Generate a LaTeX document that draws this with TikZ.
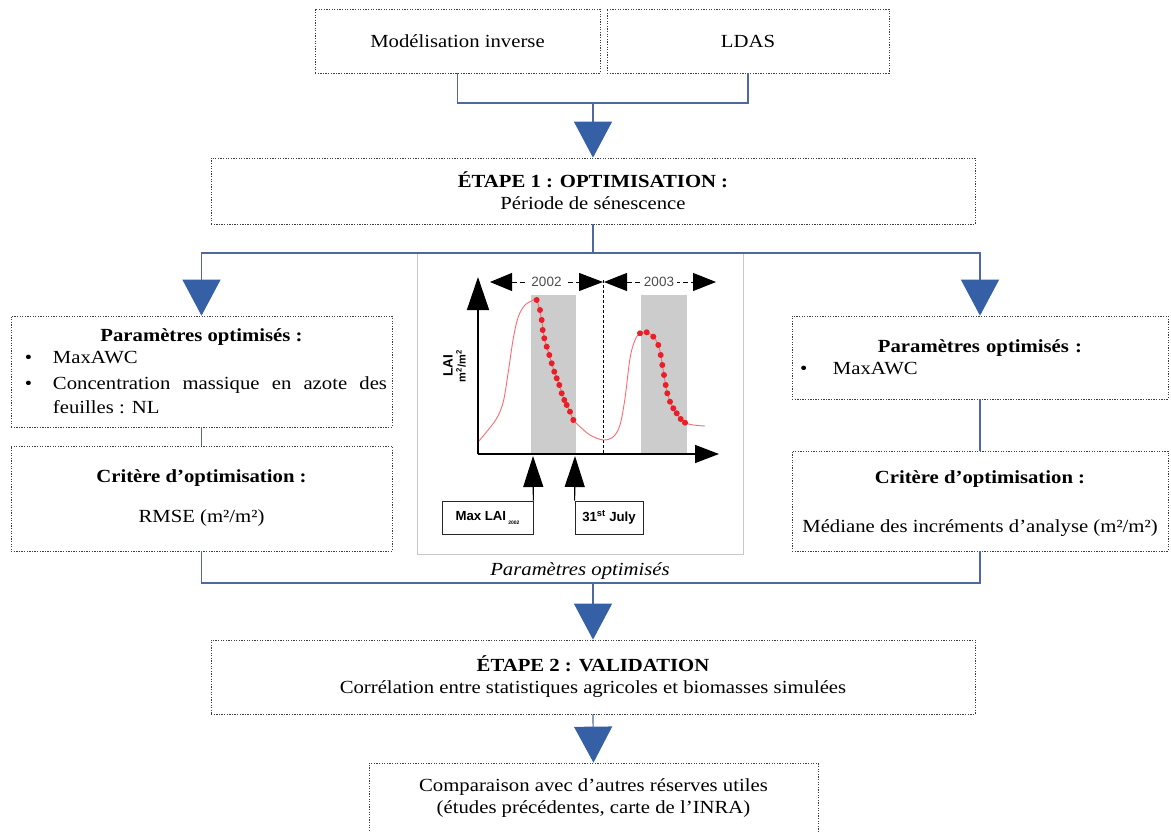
\documentclass[tikz,border=0pt]{standalone}
\usepackage{fontspec}
\setmainfont{Liberation Serif}[FakeStretch=1.12]
\newfontfamily\chartfont{Liberation Sans}
\usetikzlibrary{arrows.meta}
\definecolor{arrblue}{RGB}{54,96,166}
\definecolor{lineblue}{RGB}{78,104,160}
\definecolor{boxgray}{RGB}{60,60,60}
\definecolor{bandgray}{RGB}{204,204,204}
\definecolor{curvered}{RGB}{255,105,115}
\definecolor{dotred}{RGB}{232,30,40}
\newcommand\mainsize{\fontsize{18.5}{22}\selectfont}
\newcommand\chsize{\fontsize{13.2}{14}\selectfont}
\begin{document}
\begin{tikzpicture}[x=1pt,y=-1pt,
  box/.style={draw=boxgray, line width=0.7pt, dash pattern=on 1.3pt off 1.3pt,
    rectangle, inner xsep=5pt, inner ysep=0pt, align=center, font=\mainsize},
  conn/.style={draw=lineblue, line width=1.2pt},
  bigtip/.style={-{Triangle[width=38pt,length=36pt,color=arrblue,fill=arrblue]}},
  chbox/.style={draw=black!85, line width=0.8pt, rectangle, inner sep=0pt,
    font=\chartfont\bfseries\chsize},
  axis/.style={line width=1.5pt, black}
]
\useasboundingbox (0,0) rectangle (1171,832);

% ---- top boxes
\node[box, minimum width=285pt, minimum height=64pt] (inv) at (457.5,41) {Modélisation inverse};
\node[box, minimum width=282pt, minimum height=64pt] (ldas) at (748,41) {LDAS};
\node[box, minimum width=764pt, minimum height=66pt] (e1) at (593,191)
  {\textbf{ÉTAPE 1 : OPTIMISATION :}\\Période de sénescence};

% ---- left boxes
\node[box, minimum width=381pt, minimum height=111pt, text width=371pt, align=justify] (p1) at (201.5,371.5)
  {{\centering\bfseries Paramètres optimisés :\par}
   \noindent\hbox to 37pt{\hskip9pt•\hfil}MaxAWC\par\vspace{4pt}
   \hangindent=37pt\hangafter=1\noindent\hbox to 37pt{\hskip9pt•\hfil}Concentration massique en azote des\linebreak\vrule width0pt height 19pt feuilles : NL\par};
\node[box, minimum width=381pt, minimum height=105pt] (c1) at (201.5,498.5)
  {\textbf{Critère d’optimisation :}\\[18pt]RMSE (m²/m²)};

% ---- right boxes
\node[box, minimum width=376pt, minimum height=83pt, text width=366pt, align=left] (p2) at (980,357.5)
  {{\centering\bfseries Paramètres optimisés :\par}
   \noindent\hbox to 36pt{\hskip3pt•\hfil}MaxAWC\par};
\node[box, minimum width=376pt, minimum height=100pt] (c2) at (980,501)
  {\vrule width0pt height 17pt\textbf{Critère d’optimisation :}\\[27pt]Médiane des incréments d’analyse (m²/m²)};

% ---- bottom boxes
\node[box, minimum width=764pt, minimum height=74pt] (e2) at (593,677)
  {\textbf{ÉTAPE 2 : VALIDATION}\\Corrélation entre statistiques agricoles et biomasses simulées};
\node[box, minimum width=449pt, minimum height=70pt] (fin) at (593.5,798)
  {Comparaison avec d’autres réserves utiles\\(études précédentes, carte de l’INRA)};

% ---- chart frame
\node[draw=black!22, line width=1pt, fill=white, minimum width=326pt, minimum height=302pt, inner sep=0pt] (chart) at (580,403) {};
\node[font=\mainsize\itshape] (cap) at (580,571) {Paramètres optimisés};

% ---- connectors
\coordinate (j1) at (593,103);
\coordinate (j2) at (593,253);
\coordinate (j3) at (593,583);
\draw[conn] (inv.south) |- (j1) -| (ldas.south);
\draw[conn, bigtip] (j1) -- (e1.north);
\draw[conn] (e1.south) -- (j2);
\draw[conn, bigtip] (j2) -| (p1.north);
\draw[conn, bigtip] (j2) -| (p2.north);
\draw[conn] (p1.south) -- (c1.north);
\draw[conn] (p2.south) -- (c2.north);
\draw[conn] (c1.south) |- (j3) -| (c2.south);
\draw[conn, bigtip] (j3) -- (e2.north);
\draw[conn, bigtip] (e2.south) -- (fin.north);

% ---- chart content
\fill[bandgray] (531,295) rectangle (576,454);
\fill[bandgray] (641,295) rectangle (687,454);
\draw[black, line width=0.8pt, dash pattern=on 3pt off 2pt] (603,280) -- (603,454);

\draw[curvered, line width=0.9pt] plot[smooth, tension=0.55] coordinates {
 (478.3,441.7) (486.7,431.7) (496.7,418.3) (503.3,401.7) (508.3,371.7) (513.3,338.3)
 (518.3,316.7) (525,305) (531.7,301) (536.7,300) (541.7,320) (544.3,338.3) (549.3,355)
 (554.3,371.7) (559.3,385) (564.3,400) (570,411.7) (573.3,420) (580,426.7) (590,435)
 (603.3,440) (613.3,436.7) (620,425) (625,398.3) (630,358.3) (635,340) (640,333.3)
 (646.7,332.3) (653.3,336.7) (658.3,345) (660.7,355) (664,375) (667.3,393.3) (673.3,408.3)
 (680.7,419) (685,422.7) (693.3,425) (705,426)};
\foreach \px/\py in {536.7/300,540/310,541.7/320,542.7/330,544.3/338.3,546.7/346.7,549.3/355,
  551.7/363.3,554.3/371.7,556.7/378.3,559.3/385,561.7/393.3,564.3/400,566.7/405,570/411.7,573.3/420,
  640/333.3,646.7/332.3,653.3/336.7,658.3/345,660.7/355,662.3/365,664/375,665.7/385,667.3/393.3,
  670/401.7,673.3/408.3,676.7/413.3,680.7/419,685/422.7}
  \fill[dotred] (\px,\py) circle (3pt);

\coordinate (O) at (478,454);
\coordinate (ytop) at (478,277);
\coordinate (xend) at (719,454);
\draw[axis, -{Triangle[width=22pt,length=33pt]}] (O) -- (ytop);
\draw[axis, -{Triangle[width=18pt,length=24pt]}] (O) -- (xend);

% year spans
\coordinate (a1) at (490,282); \coordinate (a2) at (603,282);
\coordinate (b1) at (604,282); \coordinate (b2) at (716,282);
\draw[black, line width=1pt, dash pattern=on 5pt off 3pt,
  {Triangle[width=18pt,length=22pt]}-{Triangle[width=18pt,length=24pt]}] (a1) -- (a2);
\draw[black, line width=1pt, dash pattern=on 5pt off 3pt,
  {Triangle[width=18pt,length=23pt]}-{Triangle[width=18pt,length=23pt]}] (b1) -- (b2);
\node[fill=white, inner xsep=3pt, inner ysep=1pt, font=\chartfont\fontsize{13.5}{14}\selectfont, text=black!70] (y02) at (546.5,282) {2002};
\node[fill=white, inner xsep=3pt, inner ysep=1pt, font=\chartfont\fontsize{13.5}{14}\selectfont, text=black!70] (y03) at (659,282) {2003};

% axis label
\node[rotate=90, font=\chartfont\bfseries\fontsize{13.5}{14}\selectfont] (lai) at (448,366) {LAI};
\node[rotate=90, font=\chartfont\bfseries\fontsize{11}{11}\selectfont] (unit) at (461,366) {m\textsuperscript{2}/m\textsuperscript{2}};

% boxes below
\node[chbox, minimum width=91pt, minimum height=33pt] (maxlai) at (487.5,517.5)
  {Max LAI\,\raisebox{-4pt}{\fontsize{5}{5}\selectfont 2002}};
\node[chbox, minimum width=68pt, minimum height=33pt] (july) at (609,517.5)
  {31\textsuperscript{st} July};
\coordinate (t1) at (533,456);
\coordinate (t2) at (575,456);
\draw[line width=1.2pt, -{Triangle[width=20pt,length=31pt]}] (maxlai.north east) -- (t1);
\draw[line width=1.2pt, -{Triangle[width=20pt,length=31pt]}] (july.north west) -- (t2);
\end{tikzpicture}
\end{document}
